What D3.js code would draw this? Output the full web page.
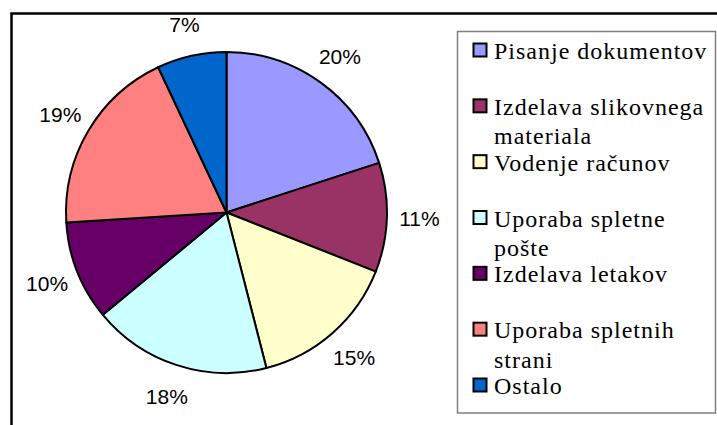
<!DOCTYPE html>
<html>
<head>
<meta charset="utf-8">
<script src="https://cdn.jsdelivr.net/npm/d3@7"></script>
<style>
  html, body { margin: 0; padding: 0; background: #fff; }
  svg { display: block; }
</style>
</head>
<body>
<svg id="chart" width="717" height="425"></svg>
<script>
// data
const categories = [
  ['Pisanje dokumentov'],
  ['Izdelava slikovnega', 'materiala'],
  ['Vodenje računov'],
  ['Uporaba spletne', 'pošte'],
  ['Izdelava letakov'],
  ['Uporaba spletnih', 'strani'],
  ['Ostalo']
]
const values = [20, 11, 15, 18, 10, 19, 7]
const colors = ['#9999FF', '#993366', '#FFFFCC', '#CCFFFF', '#660066', '#FF8080', '#0066CC']

const svg = d3.select('#chart')

// outer chart frame (cropped: only top and left edges visible)
svg.append('path')
  .attr('d', 'M11.5,425 V13.5 H717')
  .attr('fill', 'none')
  .attr('stroke', '#000')
  .attr('stroke-width', 2.5)

const cx = 226.5, cy = 212.5, r = 160.5

const pie = d3.pie().sort(null).value(d => d)
const arcs = pie(values)
const arc = d3.arc().innerRadius(0).outerRadius(r)
const labelArc = d3.arc().innerRadius(193).outerRadius(193)

const g = svg.append('g').attr('transform', `translate(${cx},${cy})`)

g.selectAll('path.slice')
  .data(arcs)
  .join('path')
  .attr('class', 'slice')
  .attr('d', arc)
  .attr('fill', (d, i) => colors[i])
  .attr('stroke', '#000')
  .attr('stroke-width', 2)
  .attr('stroke-linejoin', 'round')

g.selectAll('text.pct')
  .data(arcs)
  .join('text')
  .attr('class', 'pct')
  .attr('transform', d => `translate(${labelArc.centroid(d)})`)
  .attr('text-anchor', 'middle')
  .attr('dy', '0.36em')
  .attr('font-family', 'Liberation Sans, Arial, sans-serif')
  .attr('font-size', 21)
  .attr('fill', '#000')
  .text(d => d.value + '%')

// legend
const legend = svg.append('g')
legend.append('rect')
  .attr('x', 457.5).attr('y', 31.5)
  .attr('width', 258).attr('height', 381.5)
  .attr('fill', '#fff')
  .attr('stroke', '#808080')
  .attr('stroke-width', 1.5)

const rowY = d3.scaleLinear().domain([0, categories.length - 1]).range([59, 394])

const items = legend.selectAll('g.item')
  .data(categories)
  .join('g')
  .attr('class', 'item')
  .attr('transform', (d, i) => `translate(0,${rowY(i)})`)

items.append('rect')
  .attr('x', 473.5).attr('y', -15.5)
  .attr('width', 13).attr('height', 13)
  .attr('fill', (d, i) => colors[i])
  .attr('stroke', '#000')
  .attr('stroke-width', 2)

items.each(function(lines) {
  const t = d3.select(this).append('text')
    .attr('x', 494)
    .attr('font-family', 'Liberation Serif')
    .attr('font-size', 24)
    .attr('letter-spacing', 1)
    .attr('fill', '#000')
  lines.forEach((ln, j) => {
    t.append('tspan').attr('x', 494).attr('y', j * 29.5)
      .attr('font-family', 'Liberation Serif')
      .text(ln)
  })
})
</script>
</body>
</html>
